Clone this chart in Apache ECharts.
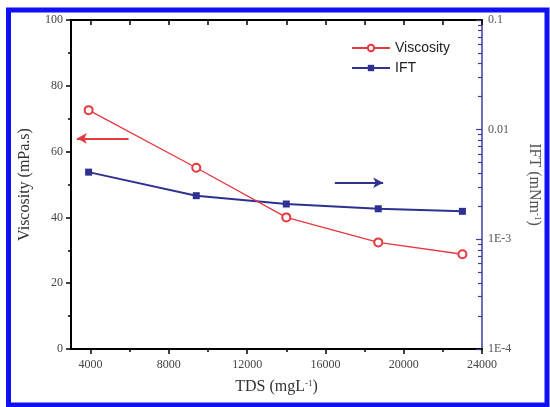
<!DOCTYPE html>
<html>
<head>
<meta charset="utf-8">
<style>
  html, body { margin: 0; padding: 0; background: #fff; }
  #chart { width: 550px; height: 407px; }
</style>
<script src="https://cdn.jsdelivr.net/npm/echarts@6/dist/echarts.min.js"></script>
</head>
<body>
<div id="chart"></div>
<script>
// TDS (mg/L) sampled at five salinities
const tds = [3900, 9400, 14000, 18700, 23000];
// Viscosity (mPa.s), left axis
const viscosity = [72.6, 55.1, 40.0, 32.4, 28.8];
// Interfacial tension (mN/m), right log axis
const ift = [0.0041, 0.0025, 0.0021, 0.0019, 0.0018];

// Axis ranges and tick positions
const tdsRange = [3000, 24000];
const tdsMajorTicks = [4000, 8000, 12000, 16000, 20000, 24000];
const tdsMinorTicks = [6000, 10000, 14000, 18000, 22000];
const tdsTopTicks = [4000, 6000, 8000, 10000, 12000, 14000, 16000, 18000, 20000, 22000, 24000];
const iftRange = [1e-4, 0.1];
const iftMajorTicks = [1e-4, 1e-3, 0.01, 0.1];
const iftTickText = { '0.0001': '1E-4', '0.001': '1E-3', '0.01': '0.01', '0.1': '0.1' };
const iftMinorTicks = [];
[1e-4, 1e-3, 1e-2].forEach(function (d) {
  for (let k = 2; k <= 9; k++) iftMinorTicks.push(+(d * k).toPrecision(3));
});

// Direction arrows: which axis each curve belongs to
const viscArrow = [[5940, 64.0], [3300, 64.0]];
const iftArrow = [[16480, 0.00328], [18950, 0.00328]];

const RED = '#e5383f';
const NAVY = '#2e3192';
const AXIS_BLUE = '#3b3f9e';
const SERIF = '"Liberation Serif", "DejaVu Serif", serif';
const SANS = '"Liberation Sans", Arial, sans-serif';

const chart = echarts.init(document.getElementById('chart'), null, { renderer: 'canvas' });

chart.setOption({
  animation: false,
  backgroundColor: '#fff',
  grid: { left: 71, top: 20, right: 67, bottom: 58, containLabel: false },
  legend: {
    orient: 'vertical',
    left: 346,
    top: 36,
    itemWidth: 38,
    itemHeight: 8,
    itemGap: 6,
    textStyle: { fontFamily: SANS, fontSize: 14, color: '#222' },
    data: ['Viscosity', 'IFT']
  },
  xAxis: [
    {
      type: 'value', position: 'bottom',
      min: tdsRange[0], max: tdsRange[1],
      name: 'TDS (mgL{sup|-1})',
      nameLocation: 'middle', nameGap: 30,
      nameTextStyle: {
        fontFamily: SERIF, fontSize: 16, color: '#333',
        rich: { sup: { fontFamily: SERIF, fontSize: 9, color: '#333', verticalAlign: 'top', lineHeight: 16 } }
      },
      axisLine: { show: true, onZero: false, lineStyle: { color: '#000', width: 2 } },
      axisTick: { show: true, inside: false, length: 5, customValues: tdsMajorTicks, lineStyle: { color: '#000', width: 1.5 } },
      axisLabel: {
        show: true, customValues: tdsMajorTicks, margin: 10, fontFamily: SERIF, fontSize: 12, color: '#444',
        formatter: function (v) { return String(Math.round(v)); }
      },
      splitLine: { show: false }
    },
    {
      type: 'value', position: 'top',
      min: tdsRange[0], max: tdsRange[1],
      axisLine: { show: true, onZero: false, lineStyle: { color: '#000', width: 2 } },
      axisTick: { show: true, inside: true, length: 5, customValues: tdsTopTicks, lineStyle: { color: '#000', width: 1.5 } },
      axisLabel: { show: false },
      splitLine: { show: false }
    },
    {
      type: 'value', position: 'bottom',
      min: tdsRange[0], max: tdsRange[1],
      axisLine: { show: false, onZero: false },
      axisTick: { show: true, inside: false, length: 3, customValues: tdsMinorTicks, lineStyle: { color: '#000', width: 1.5 } },
      axisLabel: { show: false },
      splitLine: { show: false }
    }
  ],
  yAxis: [
    {
      type: 'value', position: 'left',
      min: 0, max: 100, interval: 20,
      name: 'Viscosity (mPa.s)',
      nameLocation: 'middle', nameGap: 38, nameRotate: 90,
      nameTextStyle: { fontFamily: SERIF, fontSize: 16, color: '#333' },
      axisLine: { show: true, onZero: false, lineStyle: { color: '#000', width: 2 } },
      axisTick: { show: true, inside: false, length: 5, lineStyle: { color: '#000', width: 1.5 } },
      minorTick: { show: true, splitNumber: 2, length: 3, lineStyle: { color: '#000', width: 1.5 } },
      axisLabel: { margin: 8, fontFamily: SERIF, fontSize: 12, color: '#444' },
      splitLine: { show: false }
    },
    {
      type: 'log', position: 'right', logBase: 10,
      min: iftRange[0], max: iftRange[1],
      name: 'IFT (mNm{sup|-1})',
      nameLocation: 'middle', nameGap: 44, nameRotate: -90,
      nameTextStyle: {
        fontFamily: SERIF, fontSize: 16, color: '#555',
        rich: { sup: { fontFamily: SERIF, fontSize: 9, color: '#555', verticalAlign: 'top', lineHeight: 16 } }
      },
      axisLine: { show: true, onZero: false, lineStyle: { color: AXIS_BLUE, width: 1.5 } },
      axisTick: { show: true, inside: true, length: 6, customValues: iftMajorTicks, lineStyle: { color: AXIS_BLUE, width: 1.2 } },
      axisLabel: {
        customValues: iftMajorTicks, margin: 6, fontFamily: SERIF, fontSize: 12, color: '#555',
        formatter: function (v) { return iftTickText[String(+v.toPrecision(3))] || String(v); }
      },
      splitLine: { show: false }
    },
    {
      type: 'log', position: 'right', logBase: 10,
      min: iftRange[0], max: iftRange[1],
      axisLine: { show: false, onZero: false },
      axisTick: { show: true, inside: true, length: 4, customValues: iftMinorTicks, lineStyle: { color: AXIS_BLUE, width: 1.2 } },
      axisLabel: { show: false },
      splitLine: { show: false }
    }
  ],
  series: [
    {
      name: 'Viscosity',
      type: 'line',
      xAxisIndex: 0, yAxisIndex: 0,
      data: tds.map(function (x, i) { return [x, viscosity[i]]; }),
      symbol: 'emptyCircle',
      symbolSize: 8,
      lineStyle: { color: RED, width: 1.3 },
      itemStyle: { color: RED, borderColor: RED, borderWidth: 1.3 },
      z: 3,
      markLine: {
        silent: true,
        symbol: ['none', 'arrow'],
        symbolSize: [8, 10],
        label: { show: false },
        lineStyle: { color: RED, width: 2, type: 'solid' },
        data: [[{ coord: viscArrow[0] }, { coord: viscArrow[1] }]]
      }
    },
    {
      name: 'IFT',
      type: 'line',
      xAxisIndex: 0, yAxisIndex: 1,
      data: tds.map(function (x, i) { return [x, ift[i]]; }),
      symbol: 'rect',
      symbolSize: 7,
      lineStyle: { color: NAVY, width: 2 },
      itemStyle: { color: NAVY },
      z: 2,
      markLine: {
        silent: true,
        symbol: ['none', 'arrow'],
        symbolSize: [8, 10],
        label: { show: false },
        lineStyle: { color: NAVY, width: 2, type: 'solid' },
        data: [[{ coord: iftArrow[0] }, { coord: iftArrow[1] }]]
      }
    }
  ],
  graphic: [
    {
      type: 'rect',
      silent: true,
      shape: { x: 8.5, y: 10, width: 538.5, height: 395 },
      style: { fill: 'none', stroke: '#1010f5', lineWidth: 5 },
      z: 100
    }
  ]
});
</script>
</body>
</html>
